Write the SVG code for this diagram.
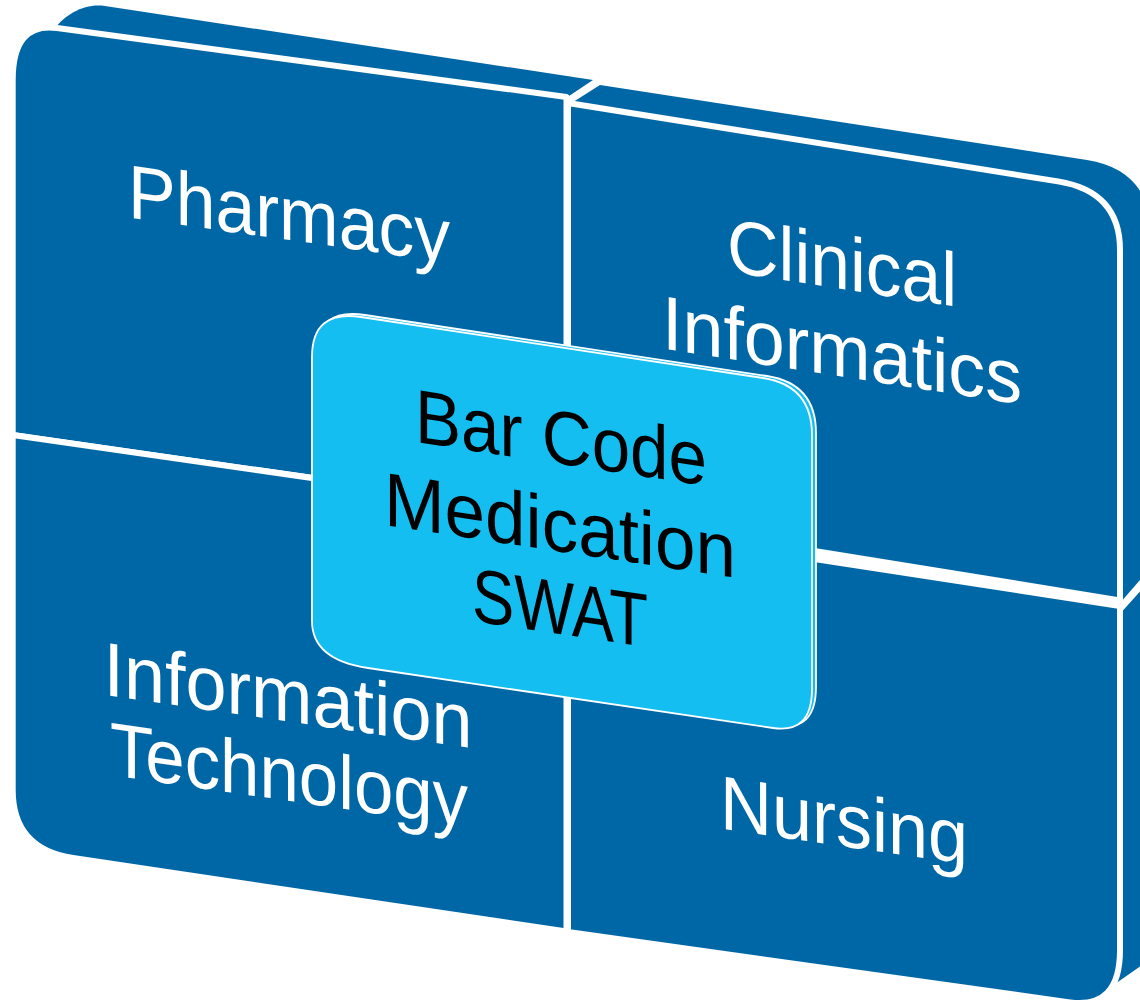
<svg xmlns="http://www.w3.org/2000/svg" width="1140" height="1004" viewBox="0 0 1140 1004">
  <style>
    .ext { fill: #0067A6; stroke: none; }
    .face { fill: #0067A6; stroke: #FFFFFF; stroke-width: 6; stroke-linejoin: round; }
    .lbl { fill: #FFFFFF; font-family: "Liberation Sans", Arial, sans-serif; font-size: 76px; text-anchor: middle; }
    .ctr { fill: #14BEF0; stroke: #FFFFFF; stroke-width: 1.8; }
    .ctxt { fill: #000000; font-family: "Liberation Sans", Arial, sans-serif; font-size: 76px; text-anchor: middle; }
  </style>
  <defs>
    <path id="centerShape" d="M 312,357 Q 312,309.5 361,317 L 763,378 Q 812,385.6 812,435 L 812,689 Q 812,733.7 773,728 L 368,668 Q 312,659.7 312,621 Z"/>
  </defs>
  <rect x="0" y="0" width="1140" height="1004" fill="#FFFFFF"/>

  <g id="node-pharmacy-depth">
    <path class="ext" d="M 55,28 C 66,14 85,3 105,6 L 593,80 L 566,98 Z"/>
  </g>
  <g id="node-clinical-depth">
    <path class="ext" d="M 570,104 L 600,85 L 1087,160 Q 1150,170 1152,235 L 1152,566 L 1120,603 Z"/>
  </g>
  <g id="node-nursing-depth">
    <path class="ext" d="M 1118,616 L 1152,578 L 1152,958 L 1105,991 Z"/>
  </g>

  <g id="node-pharmacy">
    <path class="face" d="M 12.7,435 L 12.7,80 Q 12.7,22 57,28 L 566.5,97 L 566.5,514.5 Z"/>
    <g transform="matrix(1,0.14,0,1,0,0)">
      <text class="lbl" x="289" y="199.5" textLength="322" lengthAdjust="spacingAndGlyphs">Pharmacy</text>
    </g>
  </g>
  <g id="node-clinical-informatics">
    <path class="face" d="M 568,103 L 1058,181.4 Q 1120,191.4 1120,250 L 1120,600.4 L 568,511 Z"/>
    <g transform="matrix(1,0.155,0,1,0,0)">
      <text class="lbl" x="842" y="158.5" textLength="230" lengthAdjust="spacingAndGlyphs">Clinical</text>
      <text class="lbl" x="842" y="246" textLength="360" lengthAdjust="spacingAndGlyphs">Informatics</text>
    </g>
  </g>
  <g id="node-information-technology">
    <path class="face" d="M 12.7,435 L 566.5,514.5 L 566.5,931.5 L 73,858 Q 12.7,849 12.7,790 Z"/>
    <g transform="matrix(1,0.145,0,1,0,0)">
      <text class="lbl" x="288" y="679.7" textLength="369" lengthAdjust="spacingAndGlyphs">Information</text>
      <text class="lbl" x="289" y="759" textLength="358" lengthAdjust="spacingAndGlyphs">Technology</text>
    </g>
  </g>
  <g id="node-nursing">
    <path class="face" d="M 568,521 L 1120,606 L 1120,950 Q 1120,1009 1070,1002.4 L 568,932 Z"/>
    <g transform="matrix(1,0.145,0,1,0,0)">
      <text class="lbl" x="844" y="724" textLength="248" lengthAdjust="spacingAndGlyphs">Nursing</text>
    </g>
  </g>

  <g id="node-center">
    <use href="#centerShape" class="ctr" transform="translate(4,-2)"/>
    <use href="#centerShape" class="ctr"/>
    <g transform="matrix(1,0.15,0,1,0,0)">
      <text class="ctxt" x="561" y="379.8" textLength="292" lengthAdjust="spacingAndGlyphs">Bar Code</text>
      <text class="ctxt" x="560" y="467.4" textLength="352" lengthAdjust="spacingAndGlyphs">Medication</text>
      <text class="ctxt" x="560" y="550" textLength="176" lengthAdjust="spacingAndGlyphs">SWAT</text>
    </g>
  </g>
</svg>
